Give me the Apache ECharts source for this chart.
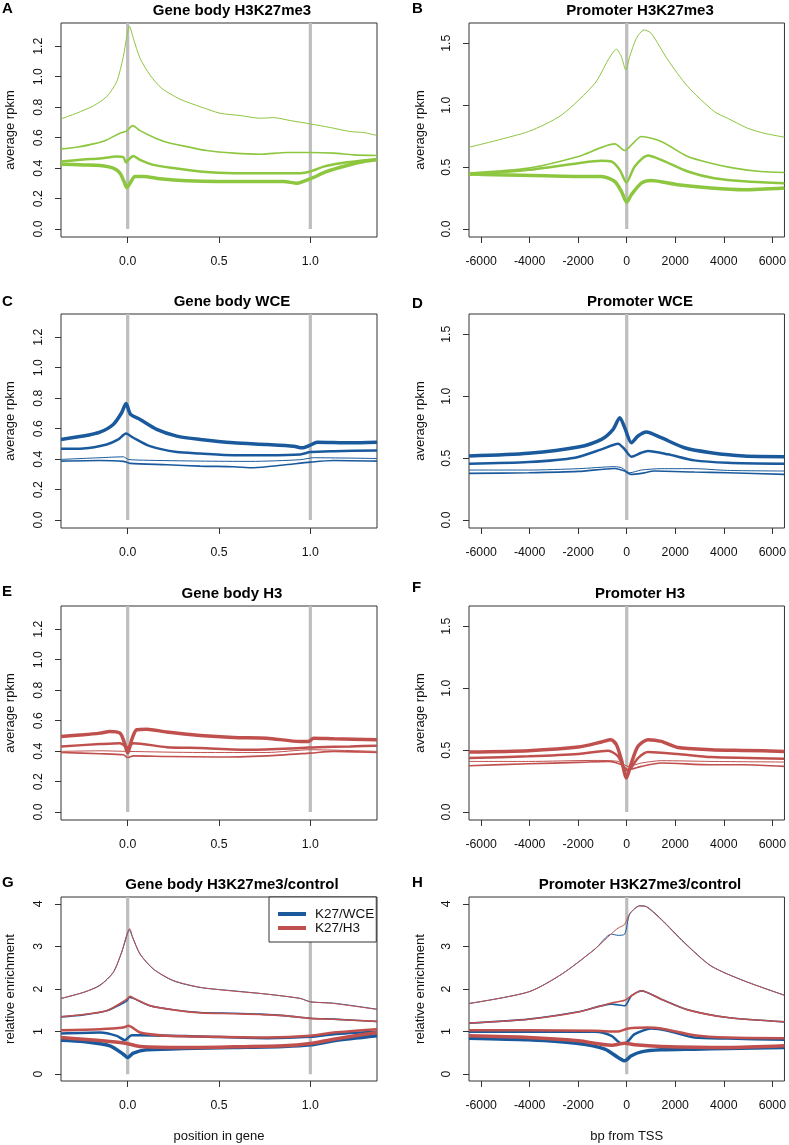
<!DOCTYPE html>
<html>
<head>
<meta charset="utf-8">
<script src="https://cdn.jsdelivr.net/npm/echarts@6/dist/echarts.min.js"></script>
<style>
html,body{margin:0;padding:0;background:#fff;}
#chart{width:789px;height:1145px;}
</style>
</head>
<body>
<div id="chart"></div>
<script>
// ---------------- tick values ----------------
const geneBodyXTicks = [0, 0.5, 1.0];
const promoterXTicks = [-6000, -4000, -2000, 0, 2000, 4000, 6000];
const rpkmGeneBodyTicks = [0, 0.2, 0.4, 0.6, 0.8, 1.0, 1.2];
const rpkmPromoterTicks = [0, 0.5, 1.0, 1.5];
const enrichmentTicks = [0, 1, 2, 3, 4];
const geneBodyMarkers = [0, 1];
const promoterMarkers = [0];

// ---------------- A: gene body H3K27me3 (quartiles, thin -> thick) ----------------
const gbK27_q1 = [[-0.365,0.723],[-0.28,0.76],[-0.188,0.808],[-0.115,0.869],[-0.06,0.967],[-0.024,1.13],[-0.005,1.262],[0.009,1.332],[0.031,1.251],[0.068,1.12],[0.122,1.011],[0.186,0.924],[0.287,0.852],[0.397,0.803],[0.506,0.76],[0.616,0.745],[0.726,0.727],[0.799,0.731],[0.89,0.712],[1.0,0.69],[1.11,0.666],[1.219,0.64],[1.293,0.633],[1.365,0.614]];
const gbK27_q2 = [[-0.365,0.526],[-0.28,0.537],[-0.188,0.559],[-0.115,0.585],[-0.042,0.629],[-0.005,0.644],[0.027,0.679],[0.068,0.646],[0.141,0.603],[0.214,0.57],[0.324,0.541],[0.433,0.515],[0.58,0.498],[0.726,0.491],[0.872,0.502],[1.0,0.502],[1.128,0.498],[1.238,0.487],[1.365,0.483]];
const gbK27_q3 = [[-0.365,0.443],[-0.243,0.456],[-0.152,0.463],[-0.06,0.476],[-0.024,0.472],[-0.009,0.437],[0.004,0.454],[0.031,0.48],[0.068,0.454],[0.141,0.421],[0.25,0.4],[0.397,0.378],[0.58,0.367],[0.762,0.367],[0.945,0.367],[1.0,0.378],[1.073,0.41],[1.165,0.432],[1.274,0.448],[1.365,0.459]];
const gbK27_q4 = [[-0.365,0.426],[-0.243,0.421],[-0.152,0.417],[-0.079,0.4],[-0.042,0.367],[-0.02,0.312],[-0.005,0.273],[0.013,0.301],[0.04,0.345],[0.086,0.345],[0.177,0.33],[0.324,0.317],[0.488,0.312],[0.671,0.312],[0.854,0.312],[0.927,0.301],[1.0,0.33],[1.091,0.378],[1.201,0.417],[1.293,0.443],[1.365,0.454]];

// ---------------- B: promoter H3K27me3 ----------------
const prK27_q1 = [[-6500,0.661],[-4046,0.788],[-2679,0.922],[-1312,1.177],[-765,1.366],[-424,1.452],[-219,1.392],[-41,1.285],[123,1.392],[396,1.54],[711,1.608],[1011,1.58],[1695,1.366],[2515,1.151],[3608,0.949],[4155,0.895],[4975,0.815],[5658,0.774],[6500,0.742]];
const prK27_q2 = [[-6500,0.452],[-4046,0.492],[-1995,0.586],[-492,0.688],[-82,0.634],[328,0.707],[601,0.747],[1421,0.707],[2515,0.586],[3472,0.532],[4428,0.492],[5522,0.465],[6500,0.457]];
const prK27_q3 = [[-6500,0.438],[-4046,0.478],[-1995,0.532],[-1039,0.551],[-629,0.546],[-287,0.478],[-14,0.376],[328,0.505],[875,0.594],[1421,0.559],[2515,0.465],[3608,0.411],[4975,0.384],[6500,0.371]];
const prK27_q4 = [[-6500,0.446],[-5412,0.438],[-3362,0.43],[-1995,0.425],[-1039,0.425],[-492,0.384],[-219,0.304],[0,0.218],[191,0.277],[601,0.371],[1011,0.392],[2105,0.358],[3472,0.331],[4838,0.317],[6500,0.331]];

// ---------------- C: gene body WCE ----------------
const gbWCE_q1 = [[-0.365,0.398],[-0.152,0.409],[-0.024,0.415],[0.004,0.398],[0.086,0.393],[0.397,0.387],[0.671,0.385],[0.945,0.396],[1.018,0.409],[1.365,0.404]];
const gbWCE_q2 = [[-0.365,0.387],[-0.152,0.391],[-0.024,0.385],[0.013,0.372],[0.214,0.363],[0.397,0.354],[0.58,0.35],[0.689,0.343],[0.854,0.361],[1.0,0.38],[1.128,0.391],[1.365,0.387]];
const gbWCE_q3 = [[-0.365,0.468],[-0.243,0.47],[-0.115,0.496],[-0.051,0.529],[-0.009,0.568],[0.031,0.54],[0.122,0.485],[0.269,0.446],[0.397,0.437],[0.58,0.426],[0.762,0.426],[0.945,0.431],[1.0,0.446],[1.128,0.452],[1.365,0.457]];
const gbWCE_q4 = [[-0.365,0.529],[-0.243,0.551],[-0.152,0.577],[-0.079,0.627],[-0.033,0.704],[-0.009,0.765],[0.016,0.693],[0.068,0.66],[0.159,0.595],[0.269,0.551],[0.397,0.529],[0.58,0.507],[0.762,0.496],[0.909,0.485],[0.954,0.474],[1.0,0.492],[1.037,0.511],[1.219,0.507],[1.365,0.511]];

// ---------------- D: promoter WCE ----------------
const prWCE_q1 = [[-6500,0.404],[-4046,0.404],[-1995,0.415],[-492,0.431],[-219,0.423],[123,0.382],[601,0.404],[1421,0.415],[2788,0.415],[4155,0.401],[6500,0.396]];
const prWCE_q2 = [[-6500,0.377],[-4046,0.382],[-1995,0.393],[-492,0.417],[-82,0.396],[164,0.369],[601,0.377],[1148,0.396],[2788,0.388],[4155,0.382],[6500,0.369]];
const prWCE_q3 = [[-6500,0.455],[-4046,0.469],[-2132,0.504],[-1039,0.571],[-355,0.617],[-82,0.571],[191,0.512],[601,0.544],[875,0.558],[1695,0.531],[2788,0.482],[4155,0.463],[6500,0.455]];
const prWCE_q4 = [[-6500,0.517],[-4046,0.539],[-1995,0.59],[-1039,0.652],[-560,0.733],[-287,0.827],[-82,0.746],[191,0.625],[465,0.679],[806,0.711],[1421,0.665],[2378,0.584],[3472,0.544],[4838,0.517],[6500,0.512]];

// ---------------- E: gene body H3 ----------------
const gbH3_q1 = [[-0.365,0.398],[-0.152,0.402],[0,0.398],[0.397,0.391],[0.762,0.391],[1.0,0.409],[1.365,0.398]];
const gbH3_q2 = [[-0.365,0.391],[-0.152,0.383],[-0.024,0.376],[0,0.358],[0.031,0.369],[0.214,0.365],[0.488,0.361],[0.762,0.369],[1.0,0.387],[1.128,0.398],[1.365,0.391]];
const gbH3_q3 = [[-0.365,0.431],[-0.152,0.446],[-0.042,0.452],[0,0.426],[0.031,0.452],[0.214,0.426],[0.397,0.42],[0.671,0.409],[0.945,0.42],[1.037,0.426],[1.219,0.431],[1.365,0.435]];
const gbH3_q4 = [[-0.365,0.496],[-0.243,0.507],[-0.152,0.518],[-0.097,0.529],[-0.042,0.518],[-0.02,0.463],[0,0.387],[0.022,0.474],[0.049,0.54],[0.104,0.544],[0.214,0.525],[0.397,0.503],[0.58,0.49],[0.762,0.485],[0.945,0.463],[0.991,0.463],[1.018,0.485],[1.128,0.481],[1.365,0.474]];

// ---------------- F: promoter H3 ----------------
const prH3_q1 = [[-6500,0.409],[-4046,0.409],[-1312,0.417],[-355,0.409],[55,0.369],[601,0.396],[1421,0.415],[3472,0.409],[6500,0.404]];
const prH3_q2 = [[-6500,0.374],[-4046,0.39],[-1995,0.401],[-765,0.409],[-219,0.382],[55,0.342],[601,0.369],[1421,0.396],[3472,0.382],[4838,0.382],[6500,0.369]];
const prH3_q3 = [[-6500,0.436],[-4046,0.45],[-1995,0.469],[-765,0.496],[-355,0.45],[-82,0.342],[55,0.337],[465,0.436],[875,0.485],[2105,0.469],[3472,0.444],[6500,0.431]];
const prH3_q4 = [[-6500,0.485],[-4046,0.496],[-1995,0.525],[-1039,0.566],[-656,0.584],[-424,0.544],[-219,0.423],[-14,0.275],[191,0.396],[465,0.531],[875,0.584],[1421,0.571],[2105,0.522],[3472,0.504],[4838,0.498],[6500,0.49]];

// ---------------- G: gene body enrichment (K27/WCE, K27/H3) ----------------
const gbRatioWCE_q1 = [[-0.365,1.777],[-0.243,1.918],[-0.152,2.09],[-0.079,2.388],[-0.033,2.857],[-0.005,3.249],[0.009,3.39],[0.027,3.209],[0.068,2.818],[0.141,2.466],[0.25,2.192],[0.397,2.035],[0.58,1.957],[0.762,1.879],[0.945,1.777],[1.0,1.699],[1.128,1.667],[1.365,1.526]];
const gbRatioH3_q1 = [[-0.365,1.78],[-0.243,1.92],[-0.152,2.08],[-0.079,2.39],[-0.033,2.87],[-0.005,3.27],[0.011,3.42],[0.027,3.22],[0.068,2.82],[0.141,2.47],[0.25,2.2],[0.397,2.04],[0.58,1.95],[0.762,1.88],[0.945,1.78],[1.0,1.7],[1.128,1.66],[1.365,1.52]];
const gbRatioWCE_q2 = [[-0.365,1.346],[-0.243,1.393],[-0.115,1.487],[-0.042,1.63],[-0.005,1.72],[0.009,1.80],[0.031,1.78],[0.122,1.605],[0.25,1.511],[0.397,1.448],[0.58,1.432],[0.726,1.409],[0.872,1.37],[1.0,1.315],[1.128,1.292],[1.365,1.237]];
const gbRatioH3_q2 = [[-0.365,1.35],[-0.243,1.40],[-0.115,1.49],[-0.042,1.66],[-0.005,1.76],[0.013,1.83],[0.031,1.79],[0.122,1.61],[0.25,1.51],[0.397,1.44],[0.58,1.42],[0.726,1.40],[0.872,1.37],[1.0,1.31],[1.128,1.29],[1.365,1.24]];
const gbRatioWCE_q3 = [[-0.365,0.955],[-0.152,0.978],[-0.06,0.9],[-0.015,0.798],[0.022,0.916],[0.068,0.916],[0.397,0.885],[0.762,0.845],[1.0,0.877],[1.128,0.939],[1.365,0.994]];
const gbRatioH3_q3 = [[-0.365,1.033],[-0.152,1.057],[-0.024,1.096],[0.004,1.135],[0.068,0.978],[0.214,0.9],[0.397,0.885],[0.762,0.861],[1.0,0.9],[1.128,0.978],[1.365,1.057]];
const gbRatioWCE_q4 = [[-0.365,0.798],[-0.243,0.767],[-0.097,0.665],[-0.024,0.47],[0,0.391],[0.031,0.493],[0.104,0.571],[0.305,0.603],[0.58,0.626],[0.854,0.65],[1.0,0.689],[1.128,0.783],[1.365,0.9]];
const gbRatioH3_q4 = [[-0.365,0.861],[-0.243,0.822],[-0.097,0.767],[-0.005,0.72],[0.068,0.65],[0.305,0.626],[0.58,0.642],[0.854,0.665],[1.0,0.72],[1.128,0.822],[1.365,0.978]];

// ---------------- H: promoter enrichment ----------------
const prRatioWCE_q1 = [[-6500,1.659],[-4046,1.933],[-2679,2.348],[-1312,2.935],[-629,3.288],[-355,3.26],[-82,3.29],[123,3.757],[533,3.953],[806,3.937],[1421,3.64],[2378,3.092],[3472,2.544],[4838,2.192],[6500,1.855]];
const prRatioH3_q1 = [[-6500,1.66],[-4046,1.93],[-2679,2.35],[-1312,2.94],[-629,3.3],[-355,3.43],[-82,3.52],[123,3.77],[533,3.95],[806,3.93],[1421,3.63],[2378,3.08],[3472,2.54],[4838,2.19],[6500,1.85]];
const prRatioWCE_q2 = [[-6500,1.198],[-4046,1.292],[-1995,1.464],[-629,1.644],[-82,1.605],[191,1.84],[601,1.957],[1421,1.761],[2515,1.511],[4155,1.331],[6500,1.229]];
const prRatioH3_q2 = [[-6500,1.2],[-4046,1.29],[-1995,1.46],[-629,1.67],[-82,1.738],[191,1.84],[601,1.96],[1421,1.76],[2515,1.51],[4155,1.33],[6500,1.23]];
const prRatioWCE_q3 = [[-6500,0.994],[-4046,1.002],[-1312,0.994],[-629,0.9],[-219,0.72],[0,0.744],[328,0.939],[1011,1.072],[1695,1.018],[2788,0.861],[4155,0.838],[6500,0.806]];
const prRatioH3_q3 = [[-6500,1.033],[-4046,1.033],[-1312,1.018],[-355,1.002],[55,1.072],[875,1.096],[1421,1.072],[2788,0.916],[4155,0.861],[6500,0.845]];
const prRatioWCE_q4 = [[-6500,0.845],[-4046,0.806],[-1995,0.72],[-902,0.587],[-355,0.391],[-82,0.313],[191,0.431],[601,0.524],[1421,0.571],[2788,0.587],[4155,0.603],[6500,0.626]];
const prRatioH3_q4 = [[-6500,0.9],[-4046,0.861],[-1995,0.783],[-629,0.681],[-82,0.728],[328,0.689],[1421,0.65],[4155,0.626],[6500,0.665]];

// ---------------- styling ----------------
const FONT = '"Liberation Sans", Arial, Helvetica, sans-serif';
const GREEN = '#8dc63f', BLUE = '#1a5a9c', RED = '#c0504d', GREY = '#bebebe', INK = '#333';
const LW = [1, 1.6, 2.5, 3.5];   // line width by expression quartile

const colLeft = [61, 469];
const plotWidth = 316;
const rowTop = [23, 314, 606, 897];
const rowHeight = [214, 214, 214, 184];

const xKinds = {
  gb: {min: -0.365, max: 1.365, ticks: geneBodyXTicks, fmt: v => v.toFixed(1), markers: geneBodyMarkers, name: 'position in gene'},
  pr: {min: -6500, max: 6500, ticks: promoterXTicks, fmt: v => String(v), markers: promoterMarkers, name: 'bp from TSS'}
};
const yKinds = {
  gb: {min: -0.052, max: 1.352, ticks: rpkmGeneBodyTicks, fmt: v => v.toFixed(1), name: 'average rpkm'},
  pr: {min: -0.064, max: 1.664, ticks: rpkmPromoterTicks, fmt: v => v.toFixed(1), name: 'average rpkm'},
  en: {min: -0.16, max: 4.16, ticks: enrichmentTicks, fmt: v => String(v), name: 'relative enrichment'}
};

const panels = [
  {letter:'A', title:'Gene body H3K27me3', col:0, row:0, x:'gb', y:'gb', letterY:9,
   lines:[[gbK27_q1,GREEN,LW[0]],[gbK27_q2,GREEN,LW[1]],[gbK27_q3,GREEN,LW[2]],[gbK27_q4,GREEN,LW[3]]]},
  {letter:'B', title:'Promoter H3K27me3', col:1, row:0, x:'pr', y:'pr', letterY:9,
   lines:[[prK27_q1,GREEN,LW[0]],[prK27_q2,GREEN,LW[1]],[prK27_q3,GREEN,LW[2]],[prK27_q4,GREEN,LW[3]]]},
  {letter:'C', title:'Gene body WCE', col:0, row:1, x:'gb', y:'gb', letterY:302,
   lines:[[gbWCE_q1,BLUE,LW[0]],[gbWCE_q2,BLUE,LW[1]],[gbWCE_q3,BLUE,LW[2]],[gbWCE_q4,BLUE,LW[3]]]},
  {letter:'D', title:'Promoter WCE', col:1, row:1, x:'pr', y:'pr', letterY:304,
   lines:[[prWCE_q1,BLUE,LW[0]],[prWCE_q2,BLUE,LW[1]],[prWCE_q3,BLUE,LW[2]],[prWCE_q4,BLUE,LW[3]]]},
  {letter:'E', title:'Gene body H3', col:0, row:2, x:'gb', y:'gb', letterY:592,
   lines:[[gbH3_q1,RED,LW[0]],[gbH3_q2,RED,LW[1]],[gbH3_q3,RED,LW[2]],[gbH3_q4,RED,LW[3]]]},
  {letter:'F', title:'Promoter H3', col:1, row:2, x:'pr', y:'pr', letterY:588,
   lines:[[prH3_q1,RED,LW[0]],[prH3_q2,RED,LW[1]],[prH3_q3,RED,LW[2]],[prH3_q4,RED,LW[3]]]},
  {letter:'G', title:'Gene body H3K27me3/control', col:0, row:3, x:'gb', y:'en', letterY:883,
   lines:[[gbRatioWCE_q1,BLUE,LW[0],'K27/WCE'],[gbRatioH3_q1,RED,LW[0],'K27/H3'],
          [gbRatioWCE_q2,BLUE,LW[1],'K27/WCE'],[gbRatioH3_q2,RED,LW[1],'K27/H3'],
          [gbRatioWCE_q3,BLUE,LW[2],'K27/WCE'],[gbRatioH3_q3,RED,LW[2],'K27/H3'],
          [gbRatioWCE_q4,BLUE,LW[3],'K27/WCE'],[gbRatioH3_q4,RED,LW[3],'K27/H3']]},
  {letter:'H', title:'Promoter H3K27me3/control', col:1, row:3, x:'pr', y:'en', letterY:883,
   lines:[[prRatioWCE_q1,BLUE,LW[0],'K27/WCE'],[prRatioH3_q1,RED,LW[0],'K27/H3'],
          [prRatioWCE_q2,BLUE,LW[1],'K27/WCE'],[prRatioH3_q2,RED,LW[1],'K27/H3'],
          [prRatioWCE_q3,BLUE,LW[2],'K27/WCE'],[prRatioH3_q3,RED,LW[2],'K27/H3'],
          [prRatioWCE_q4,BLUE,LW[3],'K27/WCE'],[prRatioH3_q4,RED,LW[3],'K27/H3']]}
];

const grid = [], xAxis = [], yAxis = [], series = [], title = [];
panels.forEach((p, i) => {
  const xk = xKinds[p.x], yk = yKinds[p.y];
  const left = colLeft[p.col], top = rowTop[p.row], h = rowHeight[p.row];
  grid.push({left: left, top: top, width: plotWidth, height: h, show: true,
             borderColor: INK, borderWidth: 1, backgroundColor: 'transparent', containLabel: false});
  const isBottom = p.row === 3;
  xAxis.push({
    gridIndex: i, type: 'value', min: xk.min, max: xk.max, position: 'bottom',
    axisLine: {show: false, onZero: false}, splitLine: {show: false},
    axisTick: {show: true, inside: false, length: 6, lineStyle: {color: INK}, customValues: xk.ticks},
    axisLabel: {customValues: xk.ticks, formatter: xk.fmt, margin: 19, fontSize: 12.3, color: '#111', fontFamily: FONT},
    name: isBottom ? xk.name : '', nameLocation: 'middle', nameGap: 49,
    nameTextStyle: {fontSize: 13, color: '#111', fontFamily: FONT}
  });
  yAxis.push({
    gridIndex: i, type: 'value', min: yk.min, max: yk.max, position: 'left',
    axisLine: {show: false, onZero: false}, splitLine: {show: false},
    axisTick: {show: true, inside: false, length: 6, lineStyle: {color: INK}, customValues: yk.ticks},
    axisLabel: {customValues: yk.ticks, formatter: yk.fmt, rotate: 90, margin: 16, fontSize: 12.3, color: '#111', fontFamily: FONT},
    name: yk.name, nameLocation: 'middle', nameRotate: 90, nameGap: p.col === 0 ? 44 : 42,
    nameTextStyle: {fontSize: 13, color: '#111', fontFamily: FONT}
  });
  xk.markers.forEach(m => {
    series.push({type: 'line', xAxisIndex: i, yAxisIndex: i, silent: true, symbol: 'none', z: 1,
                 data: [[m, 0], [m, yk.max]], lineStyle: {color: GREY, width: 3.2, cap: 'butt'}});
  });
  p.lines.forEach(l => {
    series.push({type: 'line', name: l[3] || ('q' + l[2]), xAxisIndex: i, yAxisIndex: i, symbol: 'none',
                 smooth: 0.25, z: 2, data: l[0], lineStyle: {color: l[1], width: l[2]},
                 itemStyle: {color: l[1]}, emphasis: {disabled: true}});
  });
  title.push({text: p.title, left: left + plotWidth / 2 + 13, top: top - 20, textAlign: 'center', padding: 0,
              textStyle: {fontSize: 15, fontWeight: 'bold', color: '#000', fontFamily: FONT}});
  title.push({text: p.letter, left: p.col === 0 ? 2 : 412, top: p.letterY - 8, padding: 0,
              textStyle: {fontSize: 15, fontWeight: 'bold', color: '#000', fontFamily: FONT}});
});

const option = {
  animation: false,
  backgroundColor: '#fff',
  title: title,
  grid: grid, xAxis: xAxis, yAxis: yAxis, series: series,
  legend: {
    show: true, orient: 'vertical', left: 269, top: 897,
    padding: [10, 2, 7, 9], itemGap: 0, itemWidth: 28, itemHeight: 4,
    borderColor: INK, borderWidth: 1, borderRadius: 0, backgroundColor: '#fff',
    selectedMode: false,
    textStyle: {fontSize: 13.5, color: '#111', fontFamily: FONT, padding: [0, 0, 0, 4]},
    data: [{name: 'K27/WCE', icon: 'rect', itemStyle: {color: BLUE}},
           {name: 'K27/H3', icon: 'rect', itemStyle: {color: RED}}]
  }
};

const chart = echarts.init(document.getElementById('chart'), null, {renderer: 'canvas', width: 789, height: 1145});
chart.setOption(option);
</script>
</body>
</html>
